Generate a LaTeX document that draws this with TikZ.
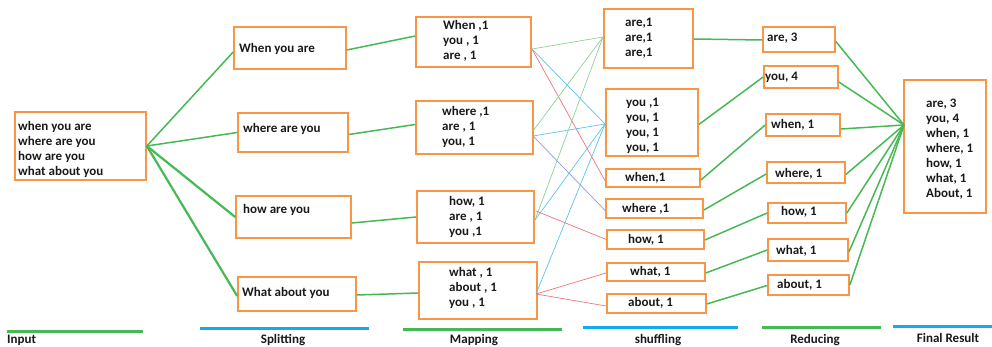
\documentclass[tikz,border=0pt]{standalone}
\usepackage{fontspec}
\setmainfont{Carlito}
\usetikzlibrary{fit}
\definecolor{boxorange}{RGB}{247,150,70}
\definecolor{linkgreen}{RGB}{70,185,85}
\definecolor{barblue}{RGB}{20,170,235}
\definecolor{thingreen}{RGB}{140,210,150}
\definecolor{thinblue}{RGB}{90,195,240}
\definecolor{thinred}{RGB}{240,115,125}
\definecolor{thinpurple}{RGB}{150,150,220}
\definecolor{ink}{RGB}{25,25,25}
\tikzset{
  box/.style={draw=boxorange, line width=1.7pt, inner sep=0pt},
  txt/.style={font=\fontsize{13}{15}\selectfont\bfseries, text=ink, inner sep=0pt, align=left},
  lbl/.style={font=\fontsize{13}{15}\selectfont\bfseries, text=ink, inner sep=0pt},
  link/.style={draw=linkgreen, line width=1.5pt},
  heavylink/.style={draw=linkgreen, line width=2.2pt},
  thin/.style={line width=0.7pt},
  greenbar/.style={draw=linkgreen, line width=3pt},
  bluebar/.style={draw=barblue, line width=3pt},
}
\begin{document}
\begin{tikzpicture}[x=1pt, y=-1pt]
\useasboundingbox (0,0) rectangle (992,347);

% ---- input ----
\node[box, fit={(15,112) (146,180)}] (inp) {};
\node[txt, anchor=west] (inpt) at (18,149) {when you are\\where are you\\how are you\\what about you};

% ---- splitting ----
\node[box, fit={(234,27) (346,69)}] (s1) {};
\node[box, fit={(238,113) (348,152)}] (s2) {};
\node[box, fit={(236,196) (351,238)}] (s3) {};
\node[box, fit={(238,277) (356,311)}] (s4) {};
\node[txt, anchor=west] (s1t) at (239,49) {When you are};
\node[txt, anchor=west] (s2t) at (243,129) {where are you};
\node[txt, anchor=west] (s3t) at (243,210) {how are you};
\node[txt, anchor=west] (s4t) at (242,293) {What about you};

% ---- mapping ----
\node[box, fit={(416,17) (531,67)}] (m1) {};
\node[box, fit={(416,101) (533,154)}] (m2) {};
\node[box, fit={(417,191) (534,243)}] (m3) {};
\node[box, fit={(419,262) (537,319)}] (m4) {};
\node[txt, anchor=west] (m1t) at (443,40.5) {When ,1\\you , 1\\are , 1};
\node[txt, anchor=west] (m2t) at (442,127) {where ,1\\are , 1\\you, 1};
\node[txt, anchor=west] (m3t) at (449,217) {how, 1\\are , 1\\you ,1};
\node[txt, anchor=west] (m4t) at (449,288) {what , 1\\about , 1\\you , 1};

% ---- shuffling ----
\node[box, fit={(604,9) (693,68)}] (h1) {};
\node[box, fit={(606,89) (698,156)}] (h2) {};
\node[box, fit={(606,169) (700,187)}] (h3) {};
\node[box, fit={(606,199) (703,218)}] (h4) {};
\node[box, fit={(607,230) (704,249)}] (h5) {};
\node[box, fit={(607,263) (705,281)}] (h6) {};
\node[box, fit={(607,294) (706,313)}] (h7) {};
\node[txt, anchor=west] (h1t) at (625,38) {are,1\\are,1\\are,1};
\node[txt, anchor=west] (h2t) at (626,126) {you ,1\\you, 1\\you, 1\\you, 1};
\node[txt, anchor=west] (h3t) at (625,178) {when,1};
\node[txt, anchor=west] (h4t) at (622,209) {where ,1};
\node[txt, anchor=west] (h5t) at (628,240) {how, 1};
\node[txt, anchor=west] (h6t) at (630,272) {what, 1};
\node[txt, anchor=west] (h7t) at (628,303) {about, 1};

% ---- reducing ----
\node[box, fit={(763,27) (835,52)}] (r1) {};
\node[box, fit={(764,66) (838,88)}] (r2) {};
\node[box, fit={(766,114) (840,136)}] (r3) {};
\node[box, fit={(767,162) (845,183)}] (r4) {};
\node[box, fit={(768,203) (846,223)}] (r5) {};
\node[box, fit={(768,239) (848,261)}] (r6) {};
\node[box, fit={(768,275) (849,295)}] (r7) {};
\node[txt, anchor=west] (r1t) at (767,38) {are, 3};
\node[txt, anchor=west] (r2t) at (765,77) {you, 4};
\node[txt, anchor=west] (r3t) at (771,125) {when, 1};
\node[txt, anchor=west] (r4t) at (775,174) {where, 1};
\node[txt, anchor=west] (r5t) at (781,212) {how, 1};
\node[txt, anchor=west] (r6t) at (776,251) {what, 1};
\node[txt, anchor=west] (r7t) at (777,285) {about, 1};

% ---- final result ----
\node[box, fit={(904,80) (986,213)}] (fin) {};
\node[txt, anchor=west] (fint) at (926,149) {are, 3\\you, 4\\when, 1\\where, 1\\how, 1\\what, 1\\About, 1};
\coordinate (hub) at (904,125);

% ---- input -> splitting ----
\draw[link] (inp.east) -- ([yshift=-4pt]s1.west);
\draw[link] (inp.east) -- (s2.west);
\draw[heavylink] (inp.east) -- (s3.west);
\draw[heavylink] (inp.east) -- ([yshift=-2pt]s4.west);

% ---- splitting -> mapping ----
\draw[link] ([yshift=-2pt]s1.east) -- ([yshift=6pt]m1.west);
\draw[link] ([yshift=-2pt]s2.east) -- ([yshift=3pt]m2.west);
\draw[link] ([yshift=-6pt]s3.east) -- ([yshift=0pt]m3.west);
\draw[link] ([yshift=-1pt]s4.east) -- ([yshift=-2.5pt]m4.west);

% ---- mapping -> shuffling ----
\coordinate (m1o) at (532,49);
\coordinate (m2a) at (533,131);
\coordinate (m2o) at (533,136);
\coordinate (m3a) at (535,220);
\coordinate (m3o) at (536,211);
\coordinate (m4o) at (536,294);
\coordinate (h1i) at (603,37);
\coordinate (h2i) at (605,124);
\draw[thin, thingreen] (m1o) -- (h1i);
\draw[thin, thinblue] (m1o) -- (h2i);
\draw[thin, thinred] (m1o) -- ([yshift=-3pt]h3.west);
\draw[thin, thingreen] (m2a) -- (h1i);
\draw[thin, thinblue] (m2o) -- (h2i);
\draw[thin, thinpurple] (m2o) -- ([yshift=-2pt]h4.west);
\draw[thin, thingreen] (m3a) -- (h1i);
\draw[thin, thinblue] (m3a) -- (h2i);
\draw[thin, thinred] (m3o) -- (h5.west);
\draw[thin, thinblue] (m4o) -- (h2i);
\draw[thin, thinred] (m4o) -- ([yshift=-1pt]h6.west);
\draw[thin, thinred] (m4o) -- ([yshift=-2.5pt]h7.west);

% ---- shuffling -> reducing ----
\draw[link] ([yshift=-0.5pt]h1.east) -- ([yshift=-0.5pt]r1.west);
\draw[link] ([yshift=-2pt]h2.east) -- (r2.west);
\draw[link] ([yshift=-2pt]h3.east) -- (r3.west);
\draw[link] ([yshift=-1.5pt]h4.east) -- ([yshift=-1.5pt]r4.west);
\draw[link] ([yshift=-0.5pt]h5.east) -- (r5.west);
\draw[link] ([yshift=-1pt]h6.east) -- (r6.west);
\draw[link] ([yshift=-0.5pt]h7.east) -- ([yshift=-0.5pt]r7.west);

% ---- reducing -> final ----
\draw[link] ([yshift=-2pt]r1.east) -- (hub);
\draw[link] ([yshift=-5pt]r2.east) -- (hub);
\draw[link] ([yshift=-4pt]r3.east) -- (hub);
\draw[link] ([yshift=-2pt]r4.east) -- (hub);
\draw[link] (r5.east) -- (hub);
\draw[link] ([yshift=-2pt]r6.east) -- (hub);
\draw[link] (r7.east) -- (hub);

% ---- stage bars and names ----
\coordinate (g1a) at (7,331);   \coordinate (g1b) at (143,331);
\coordinate (b1a) at (200,328); \coordinate (b1b) at (369,328);
\coordinate (g2a) at (403,329); \coordinate (g2b) at (562,329);
\coordinate (b2a) at (583,327); \coordinate (b2b) at (738,327);
\coordinate (g3a) at (762,327); \coordinate (g3b) at (881,327);
\coordinate (b3a) at (893,326); \coordinate (b3b) at (992,326);
\draw[greenbar] (g1a) -- (g1b);
\draw[bluebar] (b1a) -- (b1b);
\draw[greenbar] (g2a) -- (g2b);
\draw[bluebar] (b2a) -- (b2b);
\draw[greenbar] (g3a) -- (g3b);
\draw[bluebar] (b3a) -- (b3b);
\node[lbl, anchor=base west] (linput) at (7,343.5) {Input};
\node[lbl, anchor=base] (lsplit) at (283,343) {Splitting};
\node[lbl, anchor=base] (lmap) at (474,343.5) {Mapping};
\node[lbl, anchor=base] (lshuf) at (658,343) {shuffling};
\node[lbl, anchor=base] (lred) at (815,343) {Reducing};
\node[lbl, anchor=base] (lfin) at (948,342.5) {Final Result};
\end{tikzpicture}
\end{document}
